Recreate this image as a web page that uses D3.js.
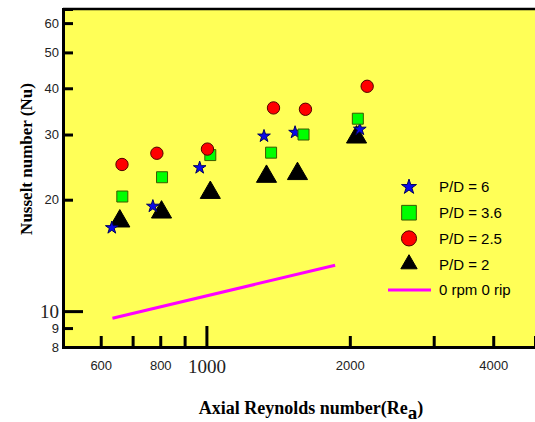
<html>
    <head>
        <meta charset="UTF-8">
        <title>Nusselt number vs axial Reynolds number</title>
        <script src="https://cdn.jsdelivr.net/npm/d3@7/dist/d3.min.js"></script>
        <style>
            body { margin: 0; background: #fff; }
            svg { display: block; }
        </style>
    </head>
    <body>
        <div id="chart"></div>

        <script>
            //----------------------------------------- data
            var rePD6   = [633, 772, 968, 1321, 1535, 2099];
            var nuPD6   = [16.8, 19.2, 24.4, 29.7, 30.4, 31.0];
            var rePD36  = [666, 807, 1019, 1367, 1599, 2079];
            var nuPD36  = [20.4, 23.0, 26.4, 26.8, 30.0, 33.1];
            var rePD25  = [665, 787, 1005, 1383, 1614, 2175];
            var nuPD25  = [24.9, 26.7, 27.4, 35.4, 35.1, 40.5];
            var rePD2   = [658, 805, 1019, 1337, 1553, 2066];
            var nuPD2   = [17.5, 18.5, 20.9, 23.1, 23.5, 29.5];
            var reNoRot = [635, 1863];
            var nuNoRot = [9.57, 13.3];

            var xTicks = [600, 700, 800, 900, 1000, 2000, 3000, 4000];
            var xTickLabels = [600, 800, 1000, 2000, 4000];
            var yTicks = [8, 9, 10, 20, 30, 40, 50, 60];

            var seriesNames = ["P/D = 6", "P/D = 3.6", "P/D = 2.5", "P/D = 2"];
            var lineName = "0 rpm 0 rip";

            //----------------------------------------- setup
            var W = 535, H = 422;
            var plotL = 63, plotT = 9, plotR = 535, plotB = 347;

            var x = d3.scaleLog().domain([500, 4895]).range([plotL, plotR]);
            var y = d3.scaleLog().domain([8, 65.5]).range([plotB, plotT]);

            var svg = d3.select("#chart").append("svg")
                    .attr("width", W)
                    .attr("height", H);

            svg.append("rect")
                    .attr("x", plotL).attr("y", plotT)
                    .attr("width", plotR - plotL).attr("height", plotB - plotT)
                    .attr("fill", "#ffff57");

            // top frame line
            svg.append("line")
                    .attr("x1", plotL).attr("x2", plotR)
                    .attr("y1", plotT).attr("y2", plotT)
                    .attr("stroke", "#000").attr("stroke-width", 2.5);

            //----------------------------------------- axes
            var serif = "'Liberation Serif', 'Times New Roman', serif";
            var sans = "'Liberation Sans', Arial, sans-serif";

            var yAxis = svg.append("g")
                    .attr("transform", "translate(" + plotL + ",0)")
                    .call(d3.axisLeft(y).tickValues(yTicks).tickSize(-10).tickPadding(14)
                            .tickFormat(d3.format("d")));
            yAxis.select(".domain").attr("stroke-width", 3);
            yAxis.selectAll(".tick line")
                    .attr("stroke-width", 3)
                    .attr("x2", function (d) { return d === 10 ? 20 : (d === 8 ? 0 : 10); });
            yAxis.selectAll(".tick text")
                    .attr("x", -4)
                    .style("font-family", function (d) { return d === 10 ? serif : sans; })
                    .style("font-size", function (d) { return d === 10 ? "19px" : "13px"; })
                    .attr("fill", "#222");

            var xAxis = svg.append("g")
                    .attr("transform", "translate(0," + plotB + ")")
                    .call(d3.axisBottom(x).tickValues(xTicks).tickSize(-11)
                            .tickFormat(function (d) {
                                return xTickLabels.indexOf(d) >= 0 ? d : "";
                            }));
            xAxis.select(".domain").attr("stroke-width", 3);
            xAxis.selectAll(".tick line")
                    .attr("stroke-width", 3)
                    .attr("y2", function (d) { return d === 1000 ? -21 : -11; });
            xAxis.selectAll(".tick text")
                    .attr("y", 14)
                    .style("font-family", function (d) { return d === 1000 ? serif : sans; })
                    .style("font-size", function (d) { return d === 1000 ? "19px" : "13px"; })
                    .attr("dy", function (d) { return d === 1000 ? "0.62em" : "0.71em"; })
                    .attr("fill", "#222");

            // axis titles
            var xTitle = svg.append("text")
                    .attr("x", 311).attr("y", 414)
                    .attr("text-anchor", "middle")
                    .style("font-family", serif)
                    .style("font-weight", "bold")
                    .style("font-size", "18px")
                    .text("Axial Reynolds number(Re");
            xTitle.append("tspan").attr("dy", 5).style("font-size", "19px").text("a");
            xTitle.append("tspan").attr("dy", -5).text(")");

            svg.append("text")
                    .attr("transform", "translate(32,159) rotate(-90)")
                    .attr("text-anchor", "middle")
                    .style("font-family", serif)
                    .style("font-weight", "bold")
                    .style("font-size", "17px")
                    .text("Nusselt number (Nu)");

            //----------------------------------------- marks
            var lineGen = d3.line()
                    .x(function (d) { return x(d[0]); })
                    .y(function (d) { return y(d[1]); });
            svg.append("path")
                    .datum(d3.zip(reNoRot, nuNoRot))
                    .attr("d", lineGen)
                    .attr("fill", "none")
                    .attr("stroke", "#ff00ff")
                    .attr("stroke-width", 3);

            var styles = [
                {xs: rePD6, ys: nuPD6, type: d3.symbolStar, size: 50, legendSize: 70, fill: "#0a0ae8", stroke: "#000060"},
                {xs: rePD36, ys: nuPD36, type: d3.symbolSquare, size: 121, legendSize: 215, fill: "#00ff00", stroke: "#3a5a00"},
                {xs: rePD25, ys: nuPD25, type: d3.symbolCircle, size: 120, legendSize: 180, fill: "#ff0000", stroke: "#500000"},
                {xs: rePD2, ys: nuPD2, type: d3.symbolTriangle, size: 175, legendSize: 115, fill: "#000", stroke: "#000"}
            ];

            // draw order: triangles, stars, squares, circles
            [3, 0, 1, 2].forEach(function (i) {
                var s = styles[i];
                svg.append("g").selectAll("path")
                        .data(d3.zip(s.xs, s.ys))
                        .enter()
                        .append("path")
                        .attr("transform", function (d) {
                            return "translate(" + x(d[0]) + "," + y(d[1]) + ")";
                        })
                        .attr("d", d3.symbol().type(s.type).size(s.size))
                        .attr("fill", s.fill)
                        .attr("stroke", s.stroke)
                        .attr("stroke-width", 1);
            });

            //----------------------------------------- legend
            var legend = svg.append("g").attr("transform", "translate(409,187)");
            styles.forEach(function (s, i) {
                var row = legend.append("g").attr("transform", "translate(0," + (i * 25.7) + ")");
                row.append("path")
                        .attr("d", d3.symbol().type(s.type).size(s.legendSize))
                        .attr("fill", s.fill)
                        .attr("stroke", s.stroke)
                        .attr("stroke-width", 1);
                row.append("text")
                        .attr("x", 30).attr("dy", "0.36em")
                        .style("font-family", sans)
                        .style("font-size", "15px")
                        .text(seriesNames[i]);
            });
            var lrow = legend.append("g").attr("transform", "translate(0,103)");
            lrow.append("line")
                    .attr("x1", -21).attr("x2", 22)
                    .attr("stroke", "#ff00ff").attr("stroke-width", 3);
            lrow.append("text")
                    .attr("x", 30).attr("dy", "0.36em")
                    .style("font-family", sans)
                    .style("font-size", "15px")
                    .text(lineName);
        </script>
    </body>
</html>
